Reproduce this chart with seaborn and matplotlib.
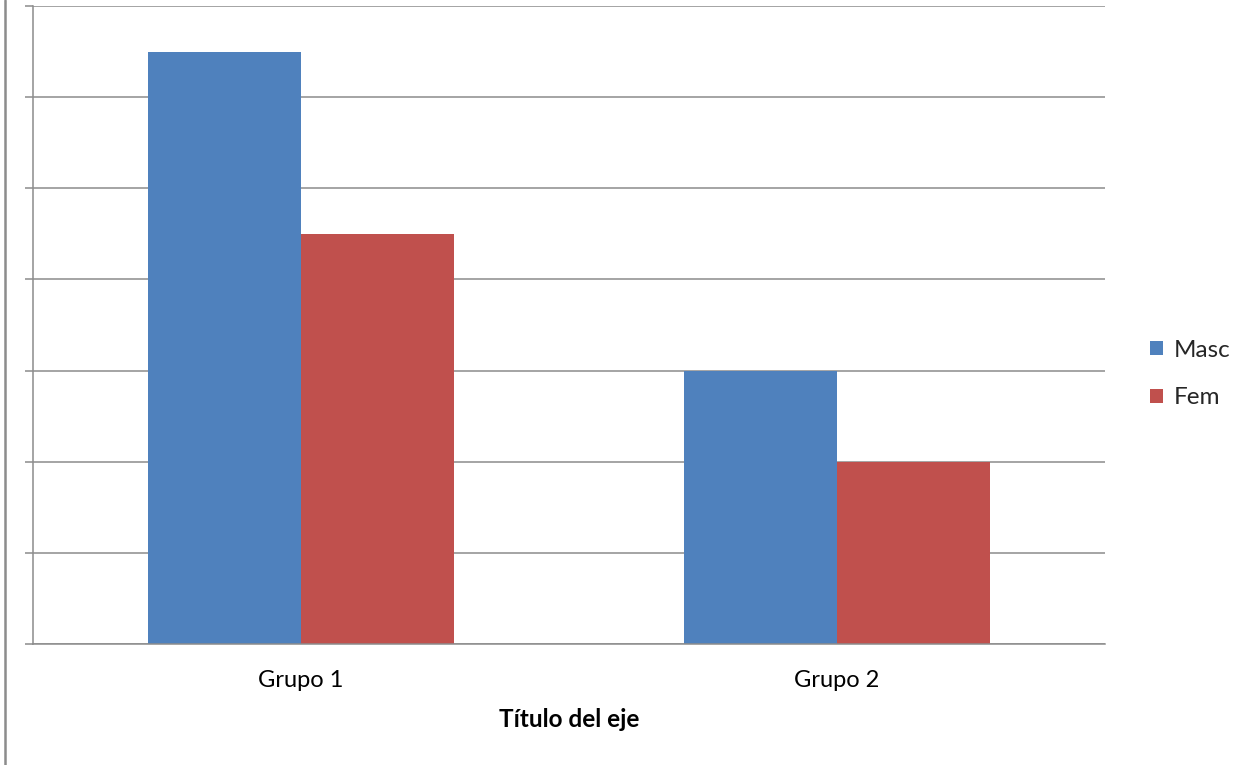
import matplotlib
matplotlib.use("Agg")
import matplotlib.pyplot as plt
import seaborn as sns
import pandas as pd

# Data
groups = ["Grupo 1", "Grupo 2"]
series = ["Masc", "Fem"]
masc_values = [6.5, 3.0]
fem_values = [4.5, 2.0]
y_ticks = [0, 1, 2, 3, 4, 5, 6, 7]
x_title = "Título del eje"

colors = ["#4F81BD", "#C0504D"]

df = pd.DataFrame({
    "grupo": groups * 2,
    "serie": [series[0]] * len(groups) + [series[1]] * len(groups),
    "valor": masc_values + fem_values,
})

sns.set_theme(style="white")
plt.rcParams["font.family"] = ["Lato", "DejaVu Sans"]

fig = plt.figure(figsize=(12.39, 7.65), dpi=100)
ax = fig.add_axes([33 / 1239, 1 - 644 / 765, (1105 - 33) / 1239, (644 - 6) / 765])

sns.barplot(data=df, x="grupo", y="valor", hue="serie", palette=colors,
            width=0.57, gap=0, saturation=1, ax=ax, legend=True,
            edgecolor="none", linewidth=0)

ax.set_xlim(-0.5, 1.5)
ax.set_ylim(y_ticks[0], y_ticks[-1])
ax.set_yticks(y_ticks)
ax.set_yticklabels([])
ax.yaxis.grid(True, color="#8C8C8C", linewidth=1.1)
ax.set_axisbelow(True)
ax.tick_params(axis="y", which="major", direction="out", length=6,
               color="#8C8C8C", width=1.1, left=True)
ax.tick_params(axis="x", length=0, labelsize=17, pad=19, colors="black")

for side in ["top", "right"]:
    ax.spines[side].set_visible(False)
for side in ["left", "bottom"]:
    ax.spines[side].set_color("#8C8C8C")
    ax.spines[side].set_linewidth(1.1)

ax.set_ylabel("")
ax.set_xlabel(x_title, fontsize=17.5, fontweight="bold", labelpad=12, color="black")

leg = ax.legend(loc="center left", bbox_to_anchor=(1.0 + 35 / 1072, 0.423),
                frameon=False, fontsize=17.5, handlelength=0.55, handleheight=0.55,
                handletextpad=0.45, labelspacing=1.1, borderaxespad=0)

# Outer chart frame on the left
fig.add_artist(plt.Line2D([5 / 1239, 5 / 1239], [0, 1], color="#8C8C8C",
                          linewidth=1.8, transform=fig.transFigure))

fig.savefig("out.png", dpi=100, facecolor="white")
